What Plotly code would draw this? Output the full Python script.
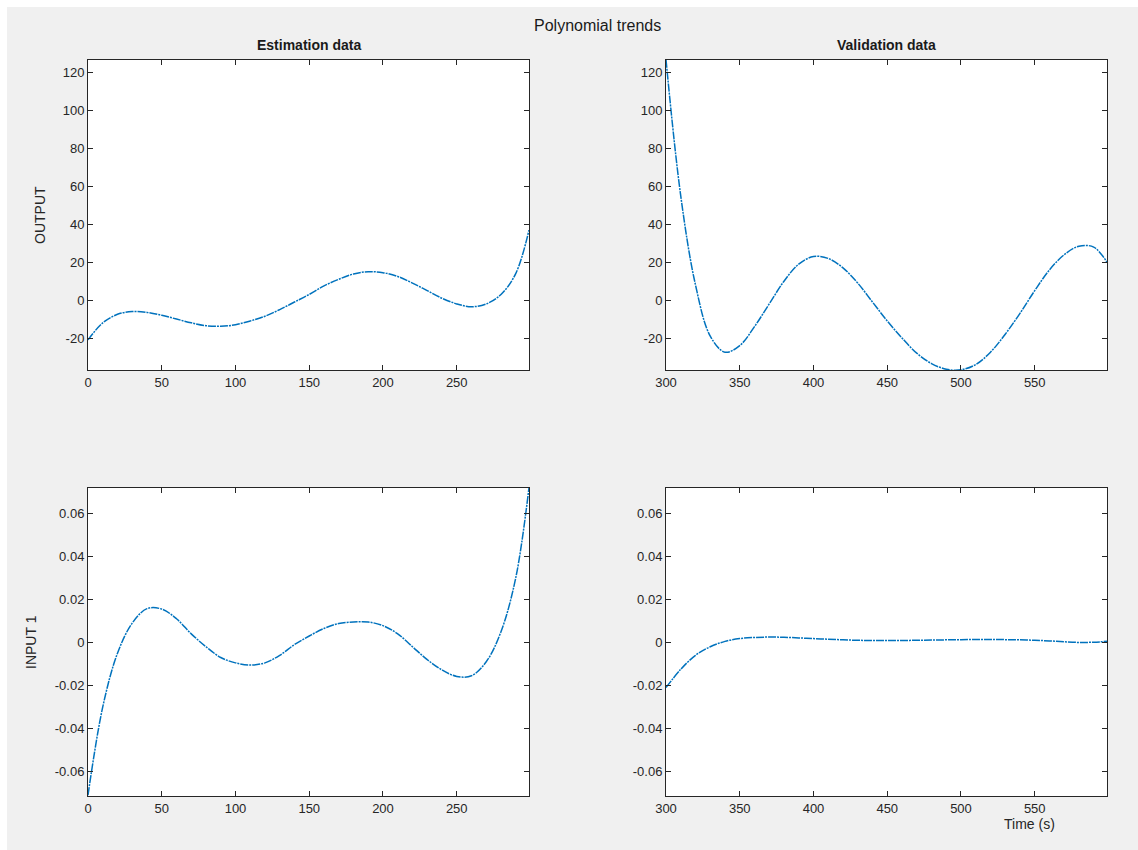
import plotly.graph_objects as go

W, H = 1138, 850

# Estimation data (t from 0 to 299)
est_t = [0, 10, 20, 30, 40, 50, 60, 70, 80, 90, 100, 110, 120, 130, 140, 150, 160, 170, 180,
         190, 200, 210, 220, 230, 240, 250, 260, 270, 280, 290, 299]
est_out = [-21, -12, -7.5, -6, -6.5, -8, -10, -12, -13.5, -13.8, -13, -11, -8.5, -5, -1, 3, 7.5,
           11, 13.8, 15, 14.5, 12.5, 9, 5, 1, -2, -3.5, -2, 3, 14, 37]
est_in = [-0.071, -0.030, -0.005, 0.009, 0.0157, 0.0155, 0.011, 0.004, -0.002, -0.007, -0.0095,
          -0.0105, -0.0095, -0.006, -0.001, 0.003, 0.0065, 0.0088, 0.0095, 0.0095, 0.0078, 0.004,
          -0.002, -0.008, -0.0128, -0.0158, -0.0155, -0.009, 0.005, 0.030, 0.072]

# Validation data (t from 300 to 599)
val_t = [300, 310, 320, 330, 340, 350, 360, 370, 380, 390, 400, 410, 420, 430, 440, 450, 460,
         470, 480, 490, 500, 510, 520, 530, 540, 550, 560, 570, 580, 590, 599]
val_out = [127, 55, 8, -19, -27.5, -24, -14, -2, 10, 19, 23, 22, 17, 9, -1, -11, -20, -28, -33.5,
           -36.5, -36.8, -34, -27.5, -18, -7, 5, 16, 24, 28.5, 28, 20]
val_in = [-0.021, -0.0125, -0.006, -0.002, 0.0005, 0.0018, 0.0023, 0.0025, 0.0024, 0.0021, 0.0018,
          0.0015, 0.0012, 0.0010, 0.0009, 0.0009, 0.0009, 0.0010, 0.0011, 0.0012, 0.0013, 0.0014,
          0.0014, 0.0013, 0.0012, 0.0010, 0.0007, 0.0003, 0.0, 0.0001, 0.0005]

x_est_ticks = [0, 50, 100, 150, 200, 250]
x_val_ticks = [300, 350, 400, 450, 500, 550]
y_out_ticks = [-20, 0, 20, 40, 60, 80, 100, 120]
y_out_labels = ["-20", "0", "20", "40", "60", "80", "100", "120"]
y_in_ticks = [-0.06, -0.04, -0.02, 0, 0.02, 0.04, 0.06]
y_in_labels = ["-0.06", "-0.04", "-0.02", "0", "0.02", "0.04", "0.06"]

LINE = "#0072BD"
AX = "#262626"
FONT = "Liberation Sans, Arial, Helvetica, sans-serif"


def px(x):
    return x / W


def py(y):
    return 1 - y / H


fig = go.Figure()
series = [
    (est_t, est_out, "x", "y"),
    (val_t, val_out, "x2", "y2"),
    (est_t, est_in, "x3", "y3"),
    (val_t, val_in, "x4", "y4"),
]
for t, v, xa, ya in series:
    fig.add_trace(go.Scatter(x=t, y=v, xaxis=xa, yaxis=ya, mode="lines",
                             line=dict(color=LINE, width=1.5, shape="spline", dash="8px,1px,2px,1px"),
                             showlegend=False, hoverinfo="skip"))

common = dict(showline=True, linecolor=AX, linewidth=1, mirror="ticks", ticks="inside",
              ticklen=5, tickcolor=AX, showgrid=False, zeroline=False, automargin=False,
              tickfont=dict(family=FONT, size=13, color=AX))

xl = [px(88), px(529)]
xr = [px(666), px(1107)]
yt = [py(370), py(60)]
yb = [py(796), py(488)]

fig.update_layout(
    xaxis=dict(domain=xl, range=[0, 299], tickvals=x_est_ticks, anchor="y", **common),
    yaxis=dict(domain=yt, range=[-36.9, 126.8], tickvals=y_out_ticks, ticktext=y_out_labels,
               anchor="x", **common),
    xaxis2=dict(domain=xr, range=[300, 599], tickvals=x_val_ticks, anchor="y2", **common),
    yaxis2=dict(domain=yt, range=[-36.9, 126.8], tickvals=y_out_ticks, ticktext=y_out_labels,
                anchor="x2", **common),
    xaxis3=dict(domain=xl, range=[0, 299], tickvals=x_est_ticks, anchor="y3", **common),
    yaxis3=dict(domain=yb, range=[-0.0714, 0.0718], tickvals=y_in_ticks, ticktext=y_in_labels,
                anchor="x3", **common),
    xaxis4=dict(domain=xr, range=[300, 599], tickvals=x_val_ticks, anchor="y4", **common),
    yaxis4=dict(domain=yb, range=[-0.0714, 0.0718], tickvals=y_in_ticks, ticktext=y_in_labels,
                anchor="x4", **common),
    width=W, height=H, autosize=False,
    margin=dict(l=0, r=0, t=0, b=0, pad=0, autoexpand=False),
    paper_bgcolor="#f0f0f0",
    plot_bgcolor="white",
    font=dict(family=FONT, color=AX),
)

shapes = [
    dict(type="rect", xref="paper", yref="paper", x0=0, x1=px(7), y0=0, y1=1,
         fillcolor="white", line=dict(width=0), layer="below"),
    dict(type="rect", xref="paper", yref="paper", x0=0, x1=1, y0=py(7), y1=1,
         fillcolor="white", line=dict(width=0), layer="below"),
]
fig.update_layout(shapes=shapes)

ann = [
    dict(text="Polynomial trends", x=px(597), y=py(25), font=dict(size=16, color="#1a1a1a")),
    dict(text="<b>Estimation data</b>", x=px(309), y=py(45), font=dict(size=14, color="#1a1a1a")),
    dict(text="<b>Validation data</b>", x=px(886), y=py(45), font=dict(size=14, color="#1a1a1a")),
    dict(text="OUTPUT", x=px(40), y=py(215), textangle=-90, font=dict(size=14, color=AX)),
    dict(text="INPUT 1", x=px(31), y=py(642), textangle=-90, font=dict(size=14, color=AX)),
    dict(text="Time (s)", x=px(1029), y=py(824), font=dict(size=14, color=AX)),
]
for a in ann:
    a.update(xref="paper", yref="paper", showarrow=False, xanchor="center", yanchor="middle")
    a["font"]["family"] = FONT
fig.update_layout(annotations=ann)

fig.write_html("out.html")
